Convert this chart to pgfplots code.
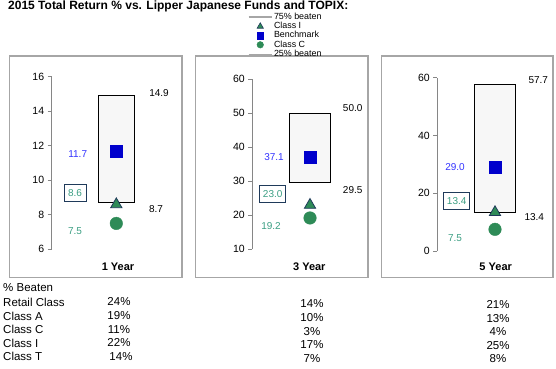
\documentclass[border=0pt]{standalone}
\usepackage{pgfplots}
\pgfplotsset{compat=1.18}
\usepackage{fontspec}
\setmainfont{Liberation Sans}
\definecolor{bench}{HTML}{0000CC}
\definecolor{benchtxt}{HTML}{3333FF}
\definecolor{clsI}{HTML}{2E8B57}
\definecolor{clsC}{HTML}{2E8B57}
\definecolor{navy}{HTML}{1F3A5A}
\definecolor{tealtxt}{HTML}{3A9E82}
\definecolor{panelgray}{HTML}{A6A6A6}
\definecolor{boxfill}{HTML}{F7F7F7}
\definecolor{axgray}{HTML}{868686}
\definecolor{lg}{HTML}{A6A6A6}
\tikzset{valbox/.style={draw=navy, line width=0.9pt, text=tealtxt, inner xsep=3.5pt, minimum height=17.5pt}}
\pgfplotsset{panel/.style={scale only axis, anchor=south west, clip=false,
  axis x line=none, axis y line*=left, xtick=\empty,
  y axis line style={draw=axgray, line width=0.8pt},
  ytick style={draw=axgray, line width=0.8pt},
  tick align=outside, major tick length=4pt,
  yticklabel style={font=\fontsize{10.5}{12}\selectfont, text=black},
  /pgf/number format/assume math mode=true,
  every node/.append style={font=\fontsize{10.5}{12}\selectfont}},
  boxplot/.style={draw=black, fill=boxfill, line width=0.9pt},
  triI/.style={only marks, mark=triangle*, mark size=6.5pt, mark options={fill=clsI, draw=navy, line width=0.8pt}},
  sqB/.style={only marks, mark=square*, mark size=6pt, color=bench},
  cirC/.style={only marks, mark=*, mark size=6.3pt, color=clsC}}
\begin{document}
\begin{tikzpicture}
\path[use as bounding box] (0pt,0pt) rectangle (556pt,368pt);
% panel frames
\draw[panelgray, line width=1.2pt] (9.3pt,90.7pt) rectangle (182pt,312pt);
\draw[panelgray, line width=1.2pt] (195.7pt,90.7pt) rectangle (368pt,312pt);
\draw[panelgray, line width=1.2pt] (381.7pt,90.7pt) rectangle (553pt,312pt);
% title
\node[font=\bfseries\fontsize{12}{14}\selectfont, anchor=west, inner sep=0pt] at (8pt,361.5pt) {2015 Total Return \% vs. Lipper Japanese Funds and TOPIX:};

% legend
\begin{axis}[hide axis, scale only axis, width=5pt, height=5pt, xmin=0, xmax=1, ymin=0, ymax=1,
  at={(247.5pt,355.4pt)}, anchor=south west,
  legend style={at={(0,0)}, anchor=north west, draw=none, fill=none, inner sep=0pt, outer sep=0pt,
    font=\fontsize{8.9}{9}\selectfont, row sep=0pt,
    nodes={inner xsep=1pt, inner ysep=0.5pt, text height=6.4pt, text depth=1.8pt}},
  legend cell align=left]
\addplot[draw=none, forget plot] coordinates {(0,0)};
\addlegendimage{legend image code/.code={\draw[line width=2pt, draw=lg] (0pt,0pt) -- (23.5pt,0pt);}}
\addlegendentry{75\% beaten}
\addlegendimage{legend image code/.code={\path[mark=triangle*, mark size=3.6pt, mark options={fill=clsI, draw=navy, line width=0.6pt}] plot coordinates {(11.75pt,0pt)};}}
\addlegendentry{Class I}
\addlegendimage{legend image code/.code={\path[mark=square*, mark size=3.2pt, mark options={fill=bench, draw=bench}] plot coordinates {(11.75pt,0pt)};}}
\addlegendentry{Benchmark}
\addlegendimage{legend image code/.code={\path[mark=*, mark size=3.3pt, mark options={fill=clsC, draw=clsC}] plot coordinates {(11.75pt,0pt)};}}
\addlegendentry{Class C}
\addlegendimage{legend image code/.code={\draw[line width=0.8pt, draw=lg] (0pt,0pt) -- (23.5pt,0pt);}}
\addlegendentry{25\% beaten}
\end{axis}

% Panel 1: 1 Year
\begin{axis}[panel, at={(51.7pt,118.7pt)}, xmin=-64.6, xmax=55, width=119.6pt,
  ymin=6, ymax=16, height=172.6pt, ytick={6,8,10,12,14,16}]
\addplot[boxplot] coordinates {(-18,8.7) (18,8.7) (18,14.9) (-18,14.9)} -- cycle;
\addplot[triI] coordinates {(0,8.6)};
\addplot[sqB] coordinates {(0,11.7)};
\addplot[cirC] coordinates {(0,7.5)};
\node at (axis cs:42.7,15.07) {14.9};
\node at (axis cs:39.7,8.33) {8.7};
\node[text=benchtxt] at (axis cs:-38.6,11.52) {11.7};
\node[valbox, minimum width=22pt] at (axis cs:-41.3,9.26) {8.6};
\node[text=tealtxt] at (axis cs:-41.3,7.06) {7.5};
\end{axis}

% Panel 2: 3 Year
\begin{axis}[panel, at={(252.3pt,118.7pt)}, xmin=-57.7, xmax=55, width=112.7pt,
  ymin=10, ymax=60, height=170.3pt, ytick={10,20,30,40,50,60}]
\addplot[boxplot] coordinates {(-20.85,29.5) (20.85,29.5) (20.85,50.0) (-20.85,50.0)} -- cycle;
\addplot[triI] coordinates {(0,23.0)};
\addplot[sqB] coordinates {(0,37.1)};
\addplot[cirC] coordinates {(0,19.2)};
\node at (axis cs:42.7,51.6) {50.0};
\node at (axis cs:42.7,27.4) {29.5};
\node[text=benchtxt] at (axis cs:-36,37.2) {37.1};
\node[valbox] at (axis cs:-37.3,26.2) {23.0};
\node[text=tealtxt] at (axis cs:-39,16.8) {19.2};
\end{axis}

% Panel 3: 5 Year
\begin{axis}[panel, at={(437.3pt,117pt)}, xmin=-57.7, xmax=55, width=112.7pt,
  ymin=0, ymax=60, height=173.3pt, ytick={0,20,40,60}]
\addplot[boxplot] coordinates {(-20.85,13.4) (20.85,13.4) (20.85,57.7) (-20.85,57.7)} -- cycle;
\addplot[triI] coordinates {(0,13.4)};
\addplot[sqB] coordinates {(0,29.0)};
\addplot[cirC] coordinates {(0,7.5)};
\node at (axis cs:43.3,59.2) {57.7};
\node at (axis cs:39.3,11.7) {13.4};
\node[text=benchtxt] at (axis cs:-40,29.2) {29.0};
\node[valbox] at (axis cs:-38.3,17.4) {13.4};
\node[text=tealtxt] at (axis cs:-40,4.6) {7.5};
\end{axis}

% period labels
\node[font=\bfseries\fontsize{11}{13}\selectfont] at (118pt,101pt) {1 Year};
\node[font=\bfseries\fontsize{11}{13}\selectfont] at (309.3pt,101pt) {3 Year};
\node[font=\bfseries\fontsize{11}{13}\selectfont] at (495.7pt,101pt) {5 Year};

% % beaten table
\begin{scope}[every node/.style={font=\fontsize{11.5}{13}\selectfont, inner sep=0pt}]
\node[anchor=west] at (3pt,80pt) {\% Beaten};
\node[anchor=west] at (3pt,66pt) {Retail Class};
\node[anchor=west] at (3pt,52pt) {Class A};
\node[anchor=west] at (3pt,38.5pt) {Class C};
\node[anchor=west] at (3pt,25pt) {Class I};
\node[anchor=west] at (3pt,11.5pt) {Class T};
\node at (119pt,66pt) {24\%};
\node at (119pt,52pt) {19\%};
\node at (119pt,38.5pt) {11\%};
\node at (119pt,25pt) {22\%};
\node at (121pt,11.5pt) {14\%};
\node at (312pt,64pt) {14\%};
\node at (312pt,50pt) {10\%};
\node at (312pt,36.5pt) {3\%};
\node at (312pt,23pt) {17\%};
\node at (312pt,9.5pt) {7\%};
\node at (498pt,63.5pt) {21\%};
\node at (498pt,49.5pt) {13\%};
\node at (498pt,36pt) {4\%};
\node at (498pt,22.5pt) {25\%};
\node at (498pt,9pt) {8\%};
\end{scope}
\end{tikzpicture}
\end{document}
